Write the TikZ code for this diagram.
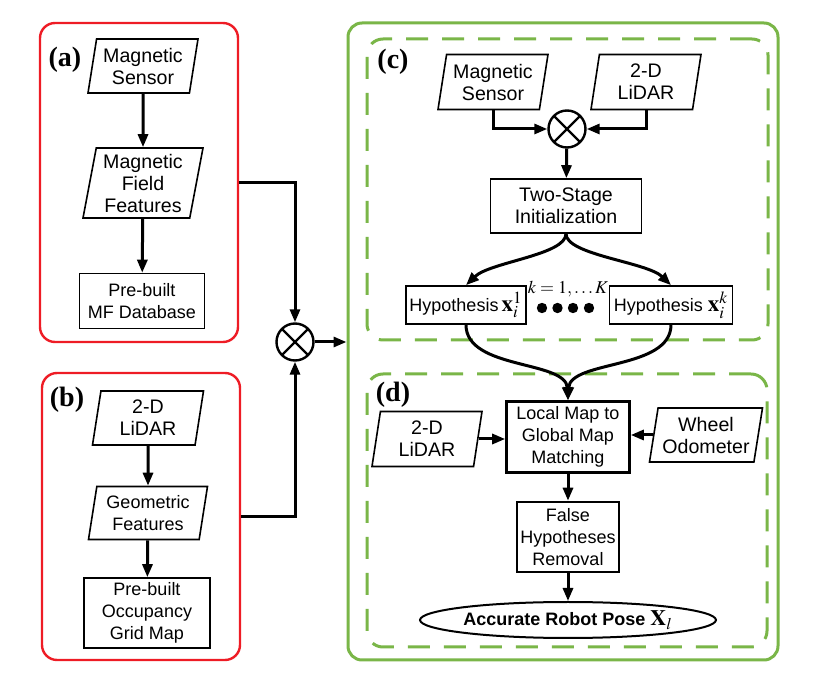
\documentclass[tikz,border=0pt]{standalone}
\usepackage{mathptmx}
\usepackage[no-math]{fontspec}
\setmainfont{Liberation Sans}
\newfontfamily\labfont{Liberation Serif}
\usetikzlibrary{arrows.meta, shapes.geometric}
\definecolor{redc}{HTML}{EE1C25}
\definecolor{grnc}{HTML}{7AB648}
\newcommand{\hypx}[1]{{\fontsize{11.5}{11.5}\selectfont$\mathbf{x}_i^{#1}$}}

\begin{document}
\begin{tikzpicture}[x=0.5pt,y=-0.5pt,>={Triangle[length=6.5pt,width=5pt]},
  inp/.style={draw,line width=0.8pt,trapezium,trapezium left angle=78,trapezium right angle=102,
    trapezium stretches body,inner sep=1pt,align=center,font=\fontsize{9.8}{11}\selectfont},
  proc/.style={draw,line width=0.8pt,rectangle,inner sep=1pt,align=center,font=\fontsize{9}{11}\selectfont},
  bproc/.style={proc,line width=1.3pt},
  hyp/.style={proc,inner sep=0.5pt,font=\fontsize{9}{10}\selectfont,minimum width=60pt,minimum height=19pt},
  arr/.style={->,line width=1.5pt},
  mixer/.style={draw,circle,line width=1.2pt,minimum size=18.5pt,inner sep=0pt,
    path picture={\draw[line width=1.2pt] (path picture bounding box.north west)--(path picture bounding box.south east)
      (path picture bounding box.north east)--(path picture bounding box.south west);}},
  redbox/.style={draw=redc,line width=1.2pt,rounded corners=7.5pt},
  grnbox/.style={draw=grnc,line width=1.5pt,rounded corners=7pt},
  dashbox/.style={draw=grnc,line width=1.5pt,rounded corners=8pt,dash pattern=on 11pt off 7pt},
  lab/.style={font=\labfont\bfseries\fontsize{14}{14}\selectfont}]
\useasboundingbox (0,0) rectangle (827,690);
% containers
\node[redbox,minimum width=99pt,minimum height=159.5pt] (boxa) at (139,182.5) {};
\node[redbox,minimum width=99pt,minimum height=143.5pt] (boxb) at (141,516.5) {};
\node[grnbox,minimum width=215pt,minimum height=318.5pt] (outer) at (563,341.5) {};
\node[dashbox,minimum width=200.5pt,minimum height=150.5pt] (boxc) at (567.5,189.5) {};
\node[dashbox,minimum width=200pt,minimum height=136.5pt] (boxd) at (567,510.5) {};
\node[lab] at (65,60) {(a)};
\node[lab] at (67,400) {(b)};
\node[lab] at (393,62) {(c)};
\node[lab] at (393,395) {(d)};
% (a) magnetic map
\node[inp,minimum width=55pt,minimum height=27pt] (a1) at (143,66) {Magnetic\\Sensor};
\node[inp,minimum width=60pt,minimum height=35pt] (a2) at (143,183) {Magnetic\\Field\\Features};
\node[proc,minimum width=62.5pt,minimum height=27.5pt] (a3) at (142,301) {Pre-built\\MF Database};
\draw[arr] (a1) -- (a2);
\draw[arr] (a2) -- (a3);
% (b) occupancy map
\node[inp,minimum width=55.5pt,minimum height=27pt] (b1) at (148,418) {2-D\\LiDAR};
\node[inp,minimum width=59.5pt,minimum height=26.5pt,font=\fontsize{9}{11}\selectfont] (b2) at (148,513) {Geometric\\Features};
\node[proc,minimum width=63pt,minimum height=35pt] (b3) at (147,613) {Pre-built\\Occupancy\\Grid Map};
\draw[arr] (b1) -- (b2);
\draw[arr] (b2) -- (b3);
% fusion
\node[mixer] (mix) at (295,342) {};
\draw[arr] (boxa.east) -| (mix.north);
\draw[arr] (boxb.east) -| (mix.south);
\draw[arr] (mix.east) -- (mix.east -| outer.west);
% (c) initialization
\node[inp,minimum width=55pt,minimum height=27.5pt] (c1) at (493,82) {Magnetic\\Sensor};
\node[inp,minimum width=55pt,minimum height=27.5pt] (c2) at (646,82) {2-D\\LiDAR};
\node[mixer] (cmix) at (567,129) {};
\node[proc,minimum width=75.5pt,minimum height=27pt,font=\fontsize{9.8}{11}\selectfont] (c3) at (566,206) {Two-Stage\\Initialization};
\node[hyp] (c4) at (466,305) {Hypothesis\,\hypx{1}};
\node[hyp,minimum width=61.5pt] (c5) at (671,305) {Hypothesis \hypx{k}};
\node[font=\fontsize{9}{9}\selectfont,inner sep=0pt] (klab) at (568,289) {$k=1,\ldots K$};
\foreach \dx in {542,557.5,573,589}
  \fill (\dx,308) circle (2.6pt);
\draw[arr] (c1.south) |- (cmix.west);
\draw[arr] (c2.south) |- (cmix.east);
\draw[arr] (cmix) -- (c3);
\draw[arr] (c3.south) .. controls (566,255) and (490,262) .. (c4.north);
\draw[arr] (c3.south) .. controls (566,255) and (647,262) .. (c5.north);
% (d) matching
\node[bproc,minimum width=61.5pt,minimum height=35.5pt] (d1) at (568,437) {Local Map to\\Global Map\\Matching};
\node[inp,minimum width=55pt,minimum height=27.5pt] (d2) at (427,439) {2-D\\LiDAR};
\node[inp,minimum width=56.5pt,minimum height=27pt] (d3) at (706,435) {Wheel\\Odometer};
\node[bproc,minimum width=51pt,minimum height=35pt] (d4) at (568,537) {False\\Hypotheses\\Removal};
\node[draw,ellipse,line width=1pt,minimum width=119pt,minimum height=18pt,inner sep=0pt,
  font=\bfseries\fontsize{9}{11}\selectfont] (d5) at (568,620) {Accurate Robot Pose {\fontsize{11}{11}\selectfont$\mathbf{X}_l$}};
\draw[arr] (c4.south) .. controls (466,370) and (566,360) .. (d1.north);
\draw[arr] (c5.south) .. controls (671,370) and (570,360) .. (d1.north);
\draw[arr] (d2.east) -- (d2.east -| d1.west);
\draw[arr] (d3.west) -- (d3.west -| d1.east);
\draw[arr] (d1) -- (d4);
\draw[arr] (d4) -- (d5);
\end{tikzpicture}
\end{document}
